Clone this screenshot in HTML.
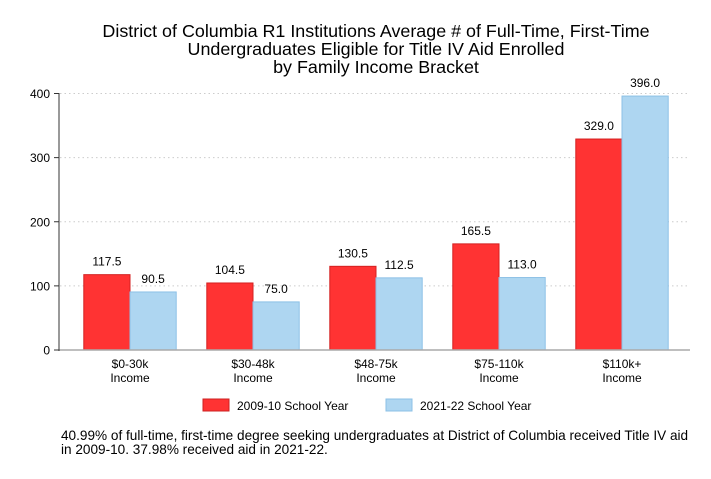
<!DOCTYPE html>
<html><head><meta charset="utf-8"><style>
body{margin:0;background:#fff;font-family:"Liberation Sans",Arial,sans-serif;}
svg text{font-family:"Liberation Sans",Arial,sans-serif;}
</style></head><body>
<svg id="c" width="711" height="474">
<text x="376" y="37" font-size="17.9" text-anchor="middle">District of Columbia R1 Institutions Average # of Full-Time, First-Time</text>
<text x="376" y="55" font-size="17.9" text-anchor="middle">Undergraduates Eligible for Title IV Aid Enrolled</text>
<text x="376" y="73" font-size="17.9" text-anchor="middle">by Family Income Bracket</text>
<g id="plot"></g>
<rect x="203" y="399" width="26" height="12" fill="#ff3333" stroke="#cc2222"/>
<text x="237" y="410" font-size="12">2009-10 School Year</text>
<rect x="386" y="399" width="26" height="12" fill="#aed6f1" stroke="#8cc0e6"/>
<text x="420" y="410" font-size="12">2021-22 School Year</text>
<text x="61" y="440" font-size="13.6">40.99% of full-time, first-time degree seeking undergraduates at District of Columbia received Title IV aid</text>
<text x="61" y="454" font-size="13.6">in 2009-10. 37.98% received aid in 2021-22.</text>
</svg>
<script>
const categories=["$0-30k","$30-48k","$48-75k","$75-110k","$110k+"];
const series2009=[117.5,104.5,130.5,165.5,329.0];
const series2021=[90.5,75.0,112.5,113.0,396.0];
const yTicks=[0,100,200,300,400];
const NS="http://www.w3.org/2000/svg";
const g=document.getElementById('plot');
const y=v=>350-v*(256.5/400);
const x0=68.5,band=123,bw=46.2;
function mk(t,a){const e=document.createElementNS(NS,t);for(const k in a)e.setAttribute(k,a[k]);g.appendChild(e);return e;}
yTicks.forEach(t=>{
  if(t>0){const l=mk('line',{x1:60,x2:690,y1:y(t),y2:y(t),stroke:'#ccc','stroke-dasharray':'1.5,3'});
  
  }
  const tk=mk('line',{x1:54,x2:59,y1:y(t),y2:y(t),stroke:'#333'});
  
  
  const tx=mk('text',{x:50,y:y(t)+4.5,'font-size':12,'text-anchor':'end'});tx.textContent=t;
  
  
});
categories.forEach((c,i)=>{
  const cx=x0+band*i+band/2;
  [[series2009[i],'#ff3333','#d42020',cx-bw],[series2021[i],'#aed6f1','#8cc0e6',cx]].forEach(([v,f,s,bx],j)=>{
    const r=mk('rect',{x:bx,y:y(v),width:bw,height:350-y(v),fill:f,stroke:s});
    
    
    const t=mk('text',{x:bx+bw/2,y:y(v)-9,'font-size':12,'text-anchor':'middle'});t.textContent=v.toFixed(1);
    
    
  });
  const l1=mk('text',{x:cx,y:368,'font-size':12,'text-anchor':'middle'});l1.textContent=c;
  
  
  const l2=mk('text',{x:cx,y:382,'font-size':12,'text-anchor':'middle'});l2.textContent='Income';
  
  
});
const base=mk('line',{x1:59,x2:690,y1:350,y2:350,stroke:'#aaa','stroke-width':1.5});


const ax=mk('line',{x1:59,x2:59,y1:93,y2:351,stroke:'#333'});


</script>
</body></html>
